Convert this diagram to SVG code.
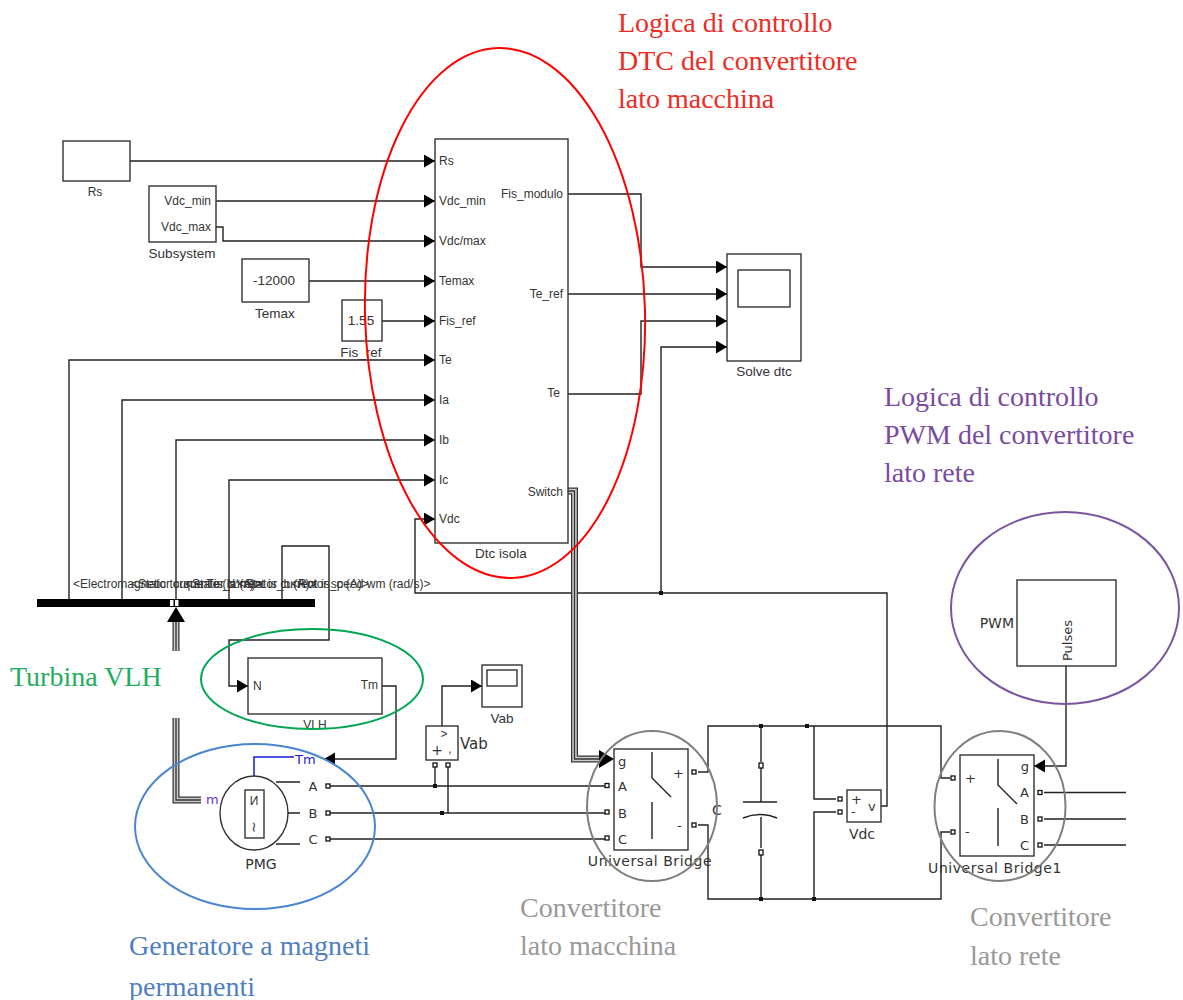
<svg xmlns="http://www.w3.org/2000/svg" width="1183" height="1000" viewBox="0 0 1183 1000">
<defs>
<style>
.w{fill:none;stroke:#222;stroke-width:1.4}
.wa{fill:none;stroke:#222;stroke-width:1.4;marker-end:url(#a)}
.b{fill:#fff;stroke:#333;stroke-width:1.4}
.bn{fill:none;stroke:#333;stroke-width:1.4}
.t{font-family:"Liberation Sans",Arial,sans-serif;font-size:12px;fill:#333}
.l{font-family:"Liberation Sans",Arial,sans-serif;font-size:13.500px;fill:#333}
.v{font-family:"DejaVu Sans",Verdana,sans-serif;font-size:13px;fill:#333}
.vb{font-family:"DejaVu Sans",Verdana,sans-serif;font-size:14px;fill:#333}
.ub{letter-spacing:.55px}
.m{text-anchor:middle}
.e{text-anchor:end}
.s{font-family:"Liberation Serif","Times New Roman",serif;font-size:28px}
.p{fill:#fff;stroke:#111;stroke-width:1.3}
.d{fill:#111}
.o{fill:none;stroke-width:2}
.t1{fill:none;stroke:#333;stroke-width:7}
.t2{fill:none;stroke:#ccc;stroke-width:4.500}
.t3{fill:none;stroke:#333;stroke-width:1.300}
</style>
<marker id="a" markerUnits="userSpaceOnUse" markerWidth="12" markerHeight="14" refX="11" refY="6.5" orient="auto">
<path d="M0 0L11 6.5L0 13Z" fill="#000"/>
</marker>
</defs>
<rect width="1183" height="1000" fill="#fff"/>
<g id="connectors">
<path class="wa" d="M130 161H435"/>
<path class="wa" d="M216 201H435"/>
<path class="wa" d="M216 227H223V241H435"/>
<path class="wa" d="M309 281H435"/>
<path class="wa" d="M382 321H435"/>
<path class="wa" d="M69 599V360H435"/>
<path class="wa" d="M122 599V400H435"/>
<path class="wa" d="M176 599V440H435"/>
<path class="wa" d="M229 599V480H435"/>
<path class="wa" d="M881 806H887V593H415V519H435"/>
<path class="wa" d="M568 194H641V267H727"/>
<path class="wa" d="M568 294H727"/>
<path class="wa" d="M568 394H641V321H727"/>
<path class="wa" d="M661 593V347H727"/>
<path class="wa" d="M282 599V546H329V640H229V686H248"/>
<path class="wa" d="M382 686H396V759H324"/>
<path class="wa" d="M442 726V686H482"/>
<g id="bus-demux-in">
<path class="t1" d="M176 622V651"/><path class="t2" d="M176 622V651"/><path class="t3" d="M176 622V651"/>
<path class="t1" d="M176 718V800H201"/><path class="t2" d="M176 718V800H201"/><path class="t3" d="M176 718V800H201"/>
<path d="M167 622L176 607L185 622Z" fill="#000"/>
</g>
<g id="switch-bus">
<path class="t1" d="M568 491H574.500V759H604"/><path class="t2" d="M568 491H574.500V759H604"/><path class="t3" d="M568 491H574.500V759H604"/>
<path d="M599 750L614 759L599 768Z" fill="#000"/>
</g>
<path class="w" d="M328 786H607M328 813H607M328 839H607"/>
<path class="w" d="M435 765V786M448 765V813"/>
<path class="w" d="M698 772H708V726H941V778H950M698 825H708V899H941V832H950"/>
<path class="w" d="M761 726V762M761 768V802M761 817V848M761 854V899"/>
<path class="w" d="M814 726V799H836M836 812H814V899"/>
<path class="wa" d="M1066 666V766H1034"/>
<path class="w" d="M1044 792.500H1126M1044 819H1126M1044 845H1126"/>
<path d="M254 776V757H294" fill="none" stroke="#1a1ad8" stroke-width="1.5"/>
<rect class="d" x="659" y="591" width="4" height="4"/>
<rect class="d" x="433" y="784" width="4" height="4"/>
<rect class="d" x="440" y="811" width="4" height="4"/>
<rect class="d" x="759" y="724" width="4" height="4"/>
<rect class="d" x="759" y="897" width="4" height="4"/>
<rect class="d" x="805" y="724" width="4" height="4"/>
<rect class="d" x="812" y="897" width="4" height="4"/>
</g>
<g id="Rs"><rect class="b" x="63" y="141" width="67" height="40"/><text class="t m" x="95" y="196">Rs</text></g>
<g id="Subsystem"><rect class="b" x="149" y="186" width="67" height="56"/><text class="t e" x="211" y="205">Vdc_min</text><text class="t e" x="211" y="231">Vdc_max</text><text class="l m" x="182" y="258">Subsystem</text></g>
<g id="Temax"><rect class="b" x="242" y="259" width="67" height="43"/><text class="l m" x="274" y="285">-12000</text><text class="l m" x="275" y="318">Temax</text></g>
<g id="Fis_ref"><rect class="b" x="342" y="300" width="40" height="41"/><text class="l m" x="361" y="325">1.55</text><text class="l m" x="361" y="357">Fis_ref</text></g>
<g id="Dtc-isola"><rect class="bn" x="435" y="139" width="133" height="404"/>
<text class="t" x="439" y="165">Rs</text><text class="t" x="439" y="205">Vdc_min</text><text class="t" x="439" y="245">Vdc/max</text><text class="t" x="439" y="285">Temax</text><text class="t" x="439" y="325">Fis_ref</text><text class="t" x="439" y="364">Te</text><text class="t" x="439" y="404">Ia</text><text class="t" x="439" y="444">Ib</text><text class="t" x="439" y="484">Ic</text><text class="t" x="439" y="523">Vdc</text>
<text class="t e" x="563" y="198">Fis_modulo</text><text class="t e" x="563" y="298">Te_ref</text><text class="t e" x="560" y="397">Te</text><text class="t e" x="563" y="496">Switch</text>
<text class="l m" x="501" y="558">Dtc isola</text></g>
<g id="Solve-dtc"><rect class="b" x="727" y="254" width="74" height="107"/><rect class="bn" x="738" y="270" width="52" height="37"/><text class="l m" x="764" y="376">Solve dtc</text></g>
<g id="Bus">
<rect x="37" y="599" width="278" height="8" fill="#000"/>
<rect x="170" y="600" width="3.500" height="6" fill="#fff"/><rect x="175" y="600" width="3.500" height="6" fill="#fff"/>
<text class="t" x="73" y="588">&lt;Electromagnetic torque Te (N*m)&gt;</text>
<text class="t" x="131" y="588">&lt;Stator current is_a (A)&gt;</text>
<text class="t" x="185" y="588">&lt;Stator current is_b (A)&gt;</text>
<text class="t" x="238" y="588">&lt;Stator current is_c (A)&gt;</text>
<text class="t" x="291" y="588">&lt;Rotor speed wm (rad/s)&gt;</text>
</g>
<g id="VLH"><rect class="bn" x="248" y="658" width="134" height="56"/><text class="t" x="253" y="690">N</text><text class="t e" x="378" y="689">Tm</text><text class="t m" x="315" y="729">VLH</text></g>
<g id="PMG">
<ellipse class="bn" cx="254" cy="813" rx="34" ry="37"/>
<rect class="bn" x="245" y="790" width="19" height="48"/>
<text class="t m" x="254" y="805">И</text>
<text class="vb m" x="254" y="832" transform="rotate(90 254 827)">~</text>
<path class="w" d="M276 782H300M288 813H300M276 844H300"/>
<text class="v m" x="313" y="791">A</text><text class="v m" x="313" y="818">B</text><text class="v m" x="313" y="844">C</text>
<rect class="p" x="326" y="784" width="4" height="4"/><rect class="p" x="326" y="811" width="4" height="4"/><rect class="p" x="326" y="837" width="4" height="4"/>
<text class="v" x="295" y="764" style="fill:#1a1ad8">Tm</text>
<text class="v" x="206" y="804" style="fill:#6a2fe0">m</text>
<text class="vb m" x="261" y="869">PMG</text>
</g>
<g id="Vab-meter"><rect class="b" x="426" y="726" width="32" height="34"/>
<text class="t m" x="444" y="738">&gt;</text><text class="vb m" x="437" y="755">+</text><text class="t m" x="450" y="753">,</text>
<rect class="p" x="433" y="763" width="4" height="4"/><rect class="p" x="446" y="763" width="4" height="4"/>
<text class="vb" x="460" y="749" style="font-size:15px">Vab</text></g>
<g id="Vab"><rect class="b" x="482" y="665" width="40" height="42"/><rect class="bn" x="487" y="670" width="30" height="16"/><text class="l m" x="502" y="723">Vab</text></g>
<g id="Universal-Bridge"><rect class="bn" x="614" y="749" width="74" height="101"/>
<path class="w" d="M652 752V778L671 797M652 802V839"/>
<text class="v" x="618" y="766">g</text><text class="v" x="618" y="791">A</text><text class="v" x="618" y="818">B</text><text class="v" x="618" y="844">C</text>
<text class="v" x="673" y="778">+</text><text class="v" x="677" y="830">-</text>
<rect class="p" x="605" y="783.500" width="4" height="4"/><rect class="p" x="605" y="810" width="4" height="4"/><rect class="p" x="605" y="836" width="4" height="4"/>
<rect class="p" x="692" y="770" width="4" height="4"/><rect class="p" x="692" y="823" width="4" height="4"/>
<text class="vb ub m" x="650" y="866">Universal Bridge</text></g>
<g id="C">
<path class="w" d="M743 802H777"/>
<path class="w" d="M743 818Q760 811 777 818"/>
<rect class="p" x="759" y="763" width="4" height="5"/><rect class="p" x="759" y="850" width="4" height="5"/>
<text class="vb" x="712" y="815">C</text></g>
<g id="Vdc"><rect class="b" x="847" y="790" width="34" height="32"/>
<text class="v" x="851" y="804">+</text><text class="v" x="851" y="816">-</text><text class="v" x="868" y="811">v</text>
<rect class="p" x="838" y="797" width="4" height="4"/><rect class="p" x="838" y="810" width="4" height="4"/>
<text class="vb m" x="862" y="839">Vdc</text></g>
<g id="Universal-Bridge1"><rect class="bn" x="960" y="755" width="74" height="101"/>
<path class="w" d="M998 759V785L1017 804M998 808V846"/>
<text class="v" x="965" y="783">+</text><text class="v" x="965" y="836">-</text>
<text class="v e" x="1029" y="771">g</text><text class="v e" x="1029" y="797">A</text><text class="v e" x="1029" y="824">B</text><text class="v e" x="1029" y="850">C</text>
<rect class="p" x="951" y="776" width="4" height="4"/><rect class="p" x="951" y="830" width="4" height="4"/>
<rect class="p" x="1038" y="790.500" width="4" height="4"/><rect class="p" x="1038" y="817" width="4" height="4"/><rect class="p" x="1038" y="843" width="4" height="4"/>
<text class="vb ub m" x="995" y="873">Universal Bridge1</text></g>
<g id="PWM"><rect class="bn" x="1017" y="580" width="99" height="86"/><text class="vb e" x="1014" y="628">PWM</text>
<text class="v" x="1072" y="661" transform="rotate(-90 1072 661)">Pulses</text></g>
<g id="annotations">
<ellipse class="o" cx="505" cy="313" rx="140" ry="265" stroke="#ff0000" transform="rotate(-1.500 505 313)"/>
<ellipse class="o" cx="312" cy="679" rx="111" ry="50" stroke="#00a650"/>
<ellipse class="o" cx="255" cy="826.500" rx="120" ry="82.500" stroke="#4a86d0"/>
<ellipse class="o" cx="652" cy="806" rx="65" ry="75" stroke="#7f7f7f"/>
<ellipse class="o" cx="1000" cy="806" rx="65.500" ry="75" stroke="#7f7f7f"/>
<ellipse class="o" cx="1065" cy="608" rx="114" ry="96" stroke="#7a55a0"/>
<g class="s" fill="#ee2c24"><text x="618" y="32">Logica di controllo</text><text x="618" y="70">DTC del convertitore</text><text x="618" y="108">lato macchina</text></g>
<g class="s" fill="#7a4aa0"><text x="884" y="406">Logica di controllo</text><text x="884" y="444">PWM del convertitore</text><text x="884" y="482">lato rete</text></g>
<text class="s" x="10" y="686" fill="#1fae5f">Turbina VLH</text>
<g class="s" fill="#4f7fc0"><text x="129" y="955">Generatore a magneti</text><text x="129" y="996">permanenti</text></g>
<g class="s" fill="#999"><text x="520" y="917">Convertitore</text><text x="520" y="955">lato macchina</text><text x="970" y="926">Convertitore</text><text x="970" y="965">lato rete</text></g>
</g>
</svg>
